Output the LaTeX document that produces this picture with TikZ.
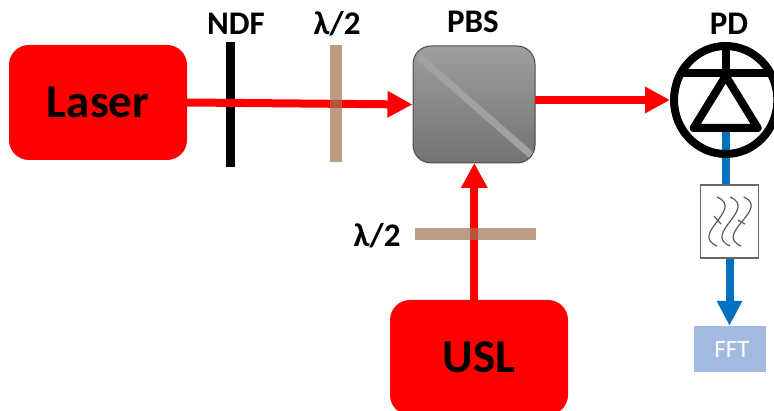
\documentclass[tikz,border=0pt]{standalone}
\usepackage{fontspec}
\setmainfont{Carlito}
\usetikzlibrary{arrows.meta}
\usetikzlibrary{positioning}
\usetikzlibrary{shapes.geometric}
\definecolor{plate}{rgb}{0.6392,0.4549,0.3176}
\definecolor{pdblue}{rgb}{0,0.4392,0.7529}
\definecolor{fftblue}{rgb}{0.6431,0.7255,0.8745}

\tikzset{
  source/.style={fill=red, rounded corners=20pt, minimum width=178pt, inner sep=0pt,
                 font=\fontsize{47}{51}\bfseries\selectfont},
  title/.style={inner sep=0pt, font=\fontsize{33}{35}\bfseries\selectfont},
  beam/.style={red, line width=8pt, -{Triangle[length=25pt,width=25pt]}},
  elec/.style={pdblue, line width=8pt},
  ring/.style={line width=8pt, line join=round},
  wave/.style={black!65, line width=1.2pt}
}

\begin{document}
\begin{tikzpicture}[x=1pt,y=-1pt]
  \useasboundingbox (0,0) rectangle (774,411);

  \node (laser) [source, minimum height=115pt] at (98,102.5) {Laser};
  \node (usl) [source, minimum height=115pt] at (479,357.5) {USL};

  \node (pbs)
        [rounded corners=18pt, minimum width=122pt, minimum height=117pt, inner sep=0pt,
         top color=black!38, bottom color=black!55, draw=black!70, line width=1pt
        ] at (474,104.5) {};
  \draw[black!37, line width=7pt] (419,57) -- (531,155);
  \node (pbslabel) [title] at (473,22) {PBS};

  % ndf goes under the beam, the plates over it
  \node (ndf) [fill=black, minimum width=9pt, minimum height=125pt, inner sep=0pt] at (230.5,104.5) {};
  \node (ndflabel) [title] at (236,24) {NDF};

  \coordinate (pbsout) at (535,100);
  \coordinate (pbsin) at (474.3,163);
  \coordinate (uslout) at (474.3,300);

  \draw[beam] (laser.east) -- (pbs.west);
  \draw[beam] (uslout) -- (pbsin);

  \node (hwpa) [fill=plate, fill opacity=0.7, minimum width=12pt, minimum height=117pt, inner sep=0pt] at (336,103.5) {};
  \node (hwpalabel) [title] at (337,24) {λ/2};
  \node (hwpb) [fill=plate, fill opacity=0.7, minimum width=121pt, minimum height=12pt, inner sep=0pt] at (475.5,234) {};
  \node (hwpblabel) [title] at (377,236) {λ/2};

  % photodiode
  \coordinate (pdout) at (725.7,128);
  \coordinate (fltin) at (725.7,185);
  \draw[elec] (pdout) -- (fltin);
  \node (pd)
        [ellipse, draw, line width=8pt, minimum width=103.4pt, minimum height=108pt, inner sep=0pt
        ] at (725.7,100) {};
  \draw[ring] (682,73) -- (770,73);
  \draw[ring] (725.7,46) -- (725.7,76);
  \draw[ring] (725.7,76) -- (693.7,128) -- (757.7,128) -- cycle;
  \node (pdlabel) [title] at (729,24) {PD};
  \draw[beam] (pbsout) -- (pd.west);

  \node (flt) [draw=black!60, fill=white, line width=1.3pt, minimum width=58pt, minimum height=73pt, inner sep=0pt] at (729.5,221.5) {};
  \draw[wave] (717,197) .. controls (745,209) and (689,234) .. (717,246);
  \draw[wave] (730,197) .. controls (758,209) and (702,234) .. (730,246);
  \draw[wave] (743.7,197) .. controls (771,209) and (713,234) .. (741,246);
  \draw[wave] (714,216) -- (721,224);
  \draw[wave] (738,220) -- (745,224);

  \node (fft) [fill=fftblue, text=white, minimum width=72pt, minimum height=46pt, inner sep=0pt,
               font=\fontsize{25}{27}\selectfont] at (729.5,349) {\hspace{5pt}FFT};
  \draw[elec, -{Triangle[length=25pt,width=24pt]}] (flt.south) -- (fft.north);
\end{tikzpicture}
\end{document}
